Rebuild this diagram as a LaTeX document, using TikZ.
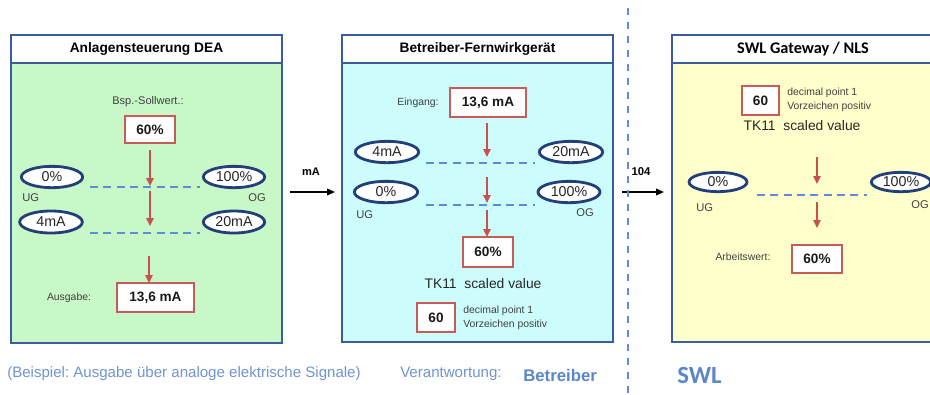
\documentclass[tikz,border=0pt]{standalone}
\usepackage{fontspec}
\setmainfont{Liberation Sans}
\newfontfamily\calibri{Carlito}
\usetikzlibrary{shapes.geometric,arrows.meta}
\definecolor{panelblue}{HTML}{3A5D9F}
\definecolor{ellblue}{HTML}{233F7A}
\definecolor{boxred}{HTML}{C85A58}
\definecolor{arrred}{HTML}{C8504D}
\definecolor{dashblue}{HTML}{5E8CD6}
\definecolor{txtblue}{HTML}{6F94D2}
\definecolor{boldblue}{HTML}{5A86CC}
\definecolor{fillgreen}{HTML}{C8F7C8}
\definecolor{fillcyan}{HTML}{CCFCFC}
\definecolor{fillyellow}{HTML}{FFFFCC}
\definecolor{lbl}{HTML}{404040}
\newcommand{\fsz}[1]{\fontsize{#1}{#1}\selectfont}
\frenchspacing
\begin{document}
\begin{tikzpicture}[x=0.75pt,y=-0.75pt,
  panel/.style={draw=panelblue,line width=2.1pt},
  titletext/.style={font=\bfseries\fsz{10.3}, text=black, inner sep=0pt},
  valbox/.style={draw=boxred,line width=1.1pt,fill=white,font=\bfseries\fsz{10.2},text=black!90,inner sep=0pt},
  ell/.style={ellipse,draw=ellblue,line width=2.1pt,fill=white,inner sep=0pt,font=\fsz{10.7},text=black!85},
  small/.style={font=\fsz{8.3},text=lbl,inner sep=0pt},
  tiny/.style={font=\fsz{7.8},text=lbl,inner sep=0pt},
  ugog/.style={font=\fsz{8.4},text=lbl,inner sep=0pt},
  redarr/.style={draw=arrred,line width=1.1pt,-{Triangle[length=6pt,width=5.5pt]}},
  blkarr/.style={draw=black,line width=1.1pt,-{Triangle[length=6pt,width=5pt]}},
  dashln/.style={draw=dashblue,line width=1.1pt,dash pattern=on 6pt off 4pt},
  bottomtxt/.style={font=\fsz{11.3},text=txtblue,inner sep=0pt,anchor=west}
]
\useasboundingbox (0,0) rectangle (930,394);
\clip (0,0) rectangle (930,394);

% ---------- Panel 1 ----------
\draw[panel,fill=fillgreen] (11,35) rectangle (282,343);
\draw[panel,fill=white] (11,35) rectangle (282,63);
\node[titletext] (t1) at (146.5,49) {Anlagensteuerung DEA};
\node[small] (bsp) at (148,102) {Bsp.-Sollwert.:};
\node[valbox,minimum width=37.5pt,minimum height=20.25pt] (v1) at (150,129.5) {60\%};
\node[ell,minimum width=46pt,minimum height=16pt] (e1a) at (52,177) {0\%};
\node[ell,minimum width=46pt,minimum height=16pt] (e1b) at (234,177) {100\%};
\node[ugog,anchor=west] (ug1) at (22,198) {UG};
\node[ugog,anchor=east] (og1) at (266,198) {OG};
\node[ell,minimum width=47pt,minimum height=16.5pt] (e1c) at (51,222) {4mA};
\node[ell,minimum width=46pt,minimum height=16.5pt] (e1d) at (234,222) {20mA};
\coordinate (d1a) at (90,187); \coordinate (d1b) at (200,187);
\coordinate (d1c) at (90,233); \coordinate (d1d) at (200,233);
\draw[dashln] (d1a) -- (d1b);
\draw[dashln] (d1c) -- (d1d);
\coordinate (a1s) at (150,150); \coordinate (a1e) at (150,186);
\coordinate (a2s) at (150,191); \coordinate (a2e) at (150,226);
\coordinate (a3s) at (149,256);
\node[tiny] (ausg) at (69,298) {Ausgabe:};
\node[valbox,minimum width=57.75pt,minimum height=21.75pt] (v2) at (155.5,297.5) {13,6 mA};
\coordinate (a3e) at (149,283);
\draw[redarr] (a1s) -- (a1e);
\draw[redarr] (a2s) -- (a2e);
\draw[redarr] (a3s) -- (a3e);

% ---------- Panel 2 ----------
\draw[panel,fill=fillcyan] (342,35) rectangle (613,342);
\draw[panel,fill=white] (342,35) rectangle (613,63);
\node[titletext] (t2) at (477.5,49) {Betreiber-Fernwirkgerät};
\node[tiny] (eing) at (418,103) {Eingang:};
\node[valbox,minimum width=57pt,minimum height=21.75pt] (v3) at (488,102.5) {13,6 mA};
\node[ell,minimum width=47.5pt,minimum height=16pt] (e2a) at (387,152) {4mA};
\node[ell,minimum width=47.5pt,minimum height=16pt] (e2b) at (571,152) {20mA};
\node[ell,minimum width=47.5pt,minimum height=16pt] (e2c) at (386,192) {0\%};
\node[ell,minimum width=46.5pt,minimum height=16pt] (e2d) at (569,192) {100\%};
\node[ugog,anchor=west] (ug2) at (356,215) {UG};
\node[ugog,anchor=east] (og2) at (594,213) {OG};
\coordinate (d2a) at (426,163); \coordinate (d2b) at (535,163);
\coordinate (d2c) at (426,205); \coordinate (d2d) at (535,205);
\draw[dashln] (d2a) -- (d2b);
\draw[dashln] (d2c) -- (d2d);
\node[valbox,minimum width=37.5pt,minimum height=22.5pt] (v4) at (488,252) {60\%};
\coordinate (b1s) at (487,123); \coordinate (b1e) at (487,157);
\coordinate (b2s) at (487,177); \coordinate (b2e) at (487,203);
\coordinate (b3s) at (487,210); \coordinate (b3e) at (487,237);
\draw[redarr] (b1s) -- (b1e);
\draw[redarr] (b2s) -- (b2e);
\draw[redarr] (b3s) -- (b3e);
\node[font=\fsz{10.4},text=black!85,inner sep=0pt] (tk2) at (483,284) {TK11\ \ scaled value};
\node[valbox,minimum width=28.5pt,minimum height=21.75pt] (v5) at (436,317.5) {60};
\node[tiny,anchor=west] (dp2) at (463,311) {decimal point 1};
\node[tiny,anchor=west] (vz2) at (463,324.5) {Vorzeichen positiv};

% ---------- Panel 3 ----------
\draw[panel,fill=fillyellow] (672,35) rectangle (934,342);
\draw[panel,fill=white] (672,35) rectangle (934,63);
\node[font=\calibri\bfseries\fsz{12.2},text=black,inner sep=0pt] (t3) at (803,49) {SWL Gateway / NLS};
\node[valbox,minimum width=27.75pt,minimum height=21.75pt] (v6) at (760.5,100.5) {60};
\node[tiny,anchor=west] (dp3) at (787,92.5) {decimal point 1};
\node[tiny,anchor=west] (vz3) at (787,107) {Vorzeichen positiv};
\node[font=\fsz{10.4},text=black!85,inner sep=0pt] (tk3) at (802,126) {TK11\ \ scaled value};
\node[ell,minimum width=43.5pt,minimum height=14.5pt] (e3a) at (718,182) {0\%};
\node[ell,minimum width=44.5pt,minimum height=14.5pt] (e3b) at (901,182) {100\%};
\node[ugog,anchor=west] (ug3) at (696,208) {UG};
\node[ugog,anchor=east] (og3) at (929,205) {OG};
\coordinate (d3a) at (757,195); \coordinate (d3b) at (867,195);
\draw[dashln] (d3a) -- (d3b);
\coordinate (c1s) at (817,157); \coordinate (c1e) at (817,184);
\coordinate (c2s) at (817,202); \coordinate (c2e) at (817,228);
\draw[redarr] (c1s) -- (c1e);
\draw[redarr] (c2s) -- (c2e);
\node[tiny] (arbw) at (743,257) {Arbeitswert:};
\node[valbox,minimum width=37.5pt,minimum height=21pt] (v7) at (817,259) {60\%};

% ---------- connectors between panels ----------
\coordinate (m1s) at (290,192); \coordinate (m1e) at (335,192);
\draw[blkarr] (m1s) -- (m1e);
\node[font=\bfseries\fsz{8.3},inner sep=0pt] (ma) at (311,172) {mA};
\coordinate (m2s) at (622,192); \coordinate (m2e) at (664,192);
\draw[blkarr] (m2s) -- (m2e);
\node[font=\bfseries\fsz{8.5},inner sep=0pt] (n104) at (641,172) {104};

% vertical separator
\coordinate (vs) at (628,8); \coordinate (ve) at (628,394);
\draw[draw=dashblue,line width=1.8pt,dash pattern=on 5pt off 5.5pt] (vs) -- (ve);

% ---------- bottom texts ----------
\node[bottomtxt] (beisp) at (7,374) {(Beispiel: Ausgabe über analoge elektrische Signale)};
\node[bottomtxt] (verant) at (400,374) {Verantwortung:};
\node[bottomtxt,font=\bfseries\fsz{12.6},text=boldblue] (betr) at (523,375) {Betreiber};
\node[bottomtxt,font=\calibri\bfseries\fsz{18.5},text=boldblue] (swl) at (677,375) {SWL};
\end{tikzpicture}
\end{document}
